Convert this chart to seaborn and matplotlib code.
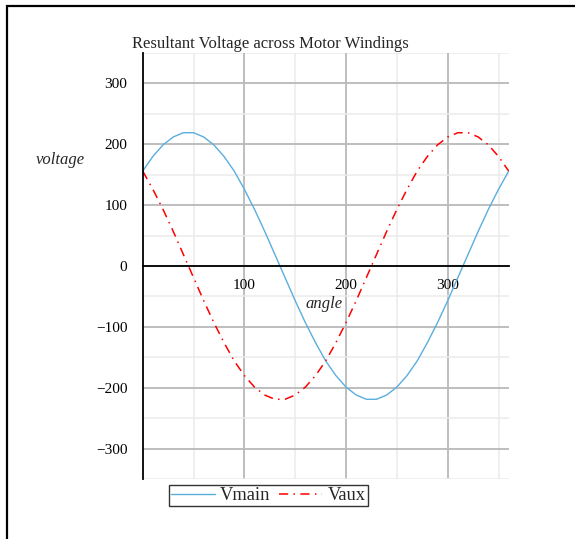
import matplotlib
matplotlib.use("Agg")
import matplotlib.pyplot as plt
import matplotlib.patches as mpatches
import seaborn as sns
import pandas as pd

# angle in degrees and the two winding voltages
angle = [0, 10, 20, 30, 40, 50, 60, 70, 80, 90, 100, 110, 120, 130, 140, 150, 160, 170, 180,
         190, 200, 210, 220, 230, 240, 250, 260, 270, 280, 290, 300, 310, 320, 330, 340, 350, 360]
vmain = [156, 180, 199, 212, 219, 219, 212, 199, 180, 156, 126, 93, 57, 19, -19, -57, -93, -126, -156,
         -180, -199, -212, -219, -219, -212, -199, -180, -156, -126, -93, -57, -19, 19, 57, 93, 126, 156]
vaux = [156, 126, 93, 57, 19, -19, -57, -93, -126, -156, -180, -199, -212, -219, -219, -212, -199, -180, -156,
        -126, -93, -57, -19, 19, 57, 93, 126, 156, 180, 199, 212, 219, 219, 212, 199, 180, 156]

title = "Resultant Voltage across Motor Windings"
xticks_major = [100, 200, 300]
xticks_minor = [50, 150, 250, 350]
yticks_major = [-300, -200, -100, 0, 100, 200, 300]
yticks_minor = [-350, -250, -150, -50, 50, 150, 250]

sns.set_style("white")
plt.rcParams["font.family"] = ["Liberation Serif", "DejaVu Serif"]
plt.rcParams["axes.unicode_minus"] = True

W, H = 575, 539
fig = plt.figure(figsize=(W / 100, H / 100), dpi=100)
ax = fig.add_axes([142.7 / W, 1 - 479 / H, (508.7 - 142.7) / W, (479 - 53) / H])

df = pd.DataFrame({"angle": angle, "Vmain": vmain, "Vaux": vaux})

blue = "#5aaede"
red = "#ff0000"
sns.lineplot(data=df, x="angle", y="Vmain", ax=ax, color=blue, lw=1.0, label="Vmain", zorder=5)
sns.lineplot(data=df, x="angle", y="Vaux", ax=ax, color=red, lw=1.1, label="Vaux", zorder=5,
             linestyle=(0, (6, 3.5, 1, 3.5)))

ax.set_xlim(0, 360)
ax.set_ylim(-350, 350)

# axes crossing at the origin
for s in ("top", "right"):
    ax.spines[s].set_visible(False)
ax.spines["left"].set_position(("data", 0))
ax.spines["bottom"].set_position(("data", 0))
for s in ("left", "bottom"):
    ax.spines[s].set_color("black")
    ax.spines[s].set_linewidth(1.3)
    ax.spines[s].set_zorder(6)

ax.set_xticks(xticks_major)
ax.set_xticks(xticks_minor, minor=True)
ax.set_yticks(yticks_major)
ax.set_yticks(yticks_minor, minor=True)
ax.set_xticklabels([str(v) for v in xticks_major])
ax.set_yticklabels([str(v).replace("-", "\u2212") for v in yticks_major])

ax.tick_params(axis="x", which="major", direction="inout", length=9, width=1.0, colors="black",
               labelsize=11, pad=5)
ax.tick_params(axis="x", which="minor", direction="out", length=4, width=1.0, colors="black")
ax.tick_params(axis="y", which="major", direction="out", length=6, width=1.0, colors="black",
               labelsize=11, pad=5)
ax.tick_params(axis="y", which="minor", direction="out", length=4, width=1.0, colors="black")

ax.grid(which="major", color="#b9b9b9", lw=1.3, zorder=0)
ax.grid(which="minor", color="#ebebeb", lw=1.1, zorder=0)
ax.axhline(350, color="#ebebeb", lw=1.1, zorder=0)
ax.set_axisbelow(True)
ax.set_xlabel("")
ax.set_ylabel("")

# axis labels and title
fig.text(60 / W, 1 - 160 / H, "voltage", ha="center", va="center", fontsize=12, style="italic")
fig.text(324 / W, 1 - 304 / H, "angle", ha="center", va="center", fontsize=12, style="italic")
fig.text(132 / W, 1 - 48 / H, title, ha="left", va="baseline", fontsize=12)

ax.get_legend().remove()
handles, labels = ax.get_legend_handles_labels()
leg = fig.legend(handles, labels, loc="center", bbox_to_anchor=(268.5 / W, 1 - 495.5 / H), ncol=2,
                 frameon=True, fancybox=False, fontsize=13.3, handlelength=2.35, handletextpad=0.3,
                 columnspacing=0.45, borderpad=0.12, borderaxespad=0)
leg.get_frame().set_edgecolor("black")
leg.get_frame().set_linewidth(1.0)

# outer frame
fig.patches.append(mpatches.Rectangle((7 / W, -0.1), 2, 1.1 - 6 / H, transform=fig.transFigure,
                                      fill=False, edgecolor="black", lw=1.6, zorder=10))

fig.savefig("out.png", dpi=100)
